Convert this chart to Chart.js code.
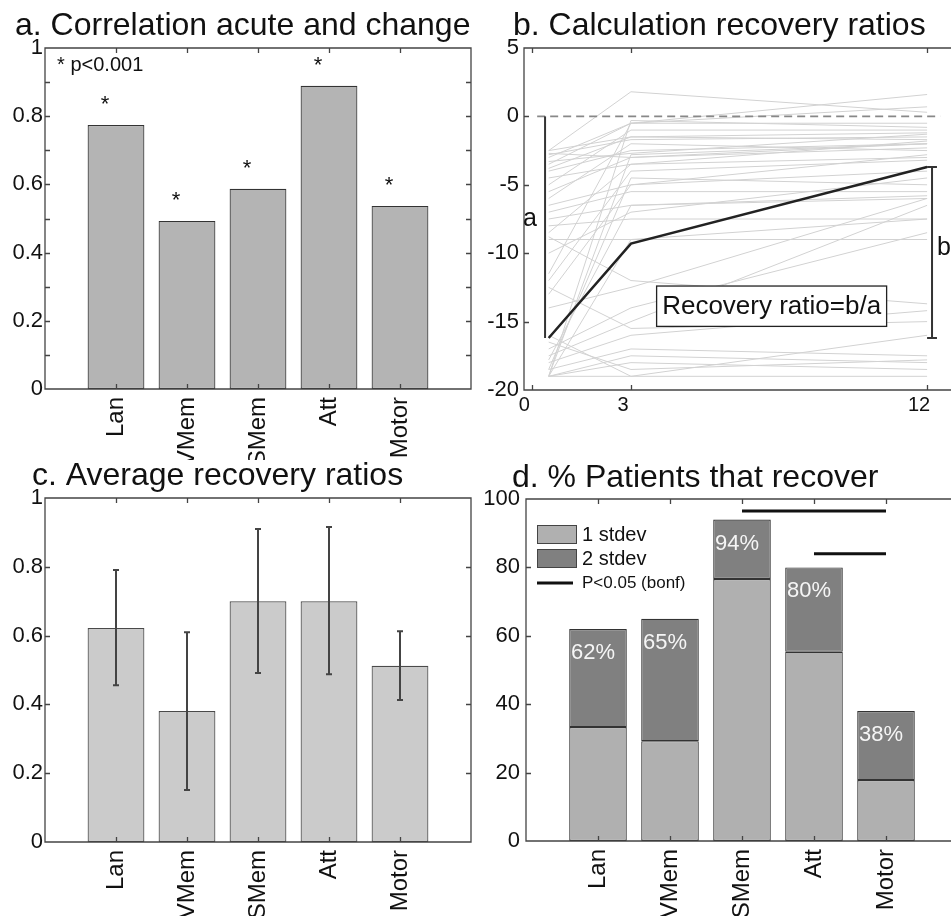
<!DOCTYPE html>
<html>
<head>
<meta charset="utf-8">
<script src="https://cdn.jsdelivr.net/npm/chart.js@4.4.1/dist/chart.umd.min.js"></script>
<style>
  html, body { margin: 0; padding: 0; background: #fff; }
  body { width: 951px; height: 916px; overflow: hidden; position: relative; }
  canvas { position: absolute; }
</style>
</head>
<body>
<canvas id="panelA" width="473" height="460" style="left:0px;top:0px"></canvas>
<canvas id="panelB" width="490" height="460" style="left:472px;top:0px"></canvas>
<canvas id="panelC" width="473" height="456" style="left:0px;top:460px"></canvas>
<canvas id="panelD" width="488" height="456" style="left:472px;top:460px"></canvas>
<script>
// ---- data ----
const domains = ["Lan", "VMem", "SMem", "Att", "Motor"];

// a. correlation acute score vs change
const correlations = [0.774, 0.493, 0.587, 0.889, 0.537];

// b. individual trajectories (acute, 3 months, 12 months)
const months = [0.5, 3, 12];
const monthTicks = [0, 3, 12];
const acuteScore = [-2.5, -3.0, -2.8, -3.5, -4.0, -2.7, -3.3, -4.5, -5.0, -6.0, -6.5, -7.0, -7.5, -8.0, -9.0, -8.5, -11.5, -12.0, -13.0, -8.8,
  -16.0, -17.0, -17.5, -18.0, -18.5, -19.0, -19.0, -19.0, -19.0, -19.0, -18.5, -17.8, -19.0, -14.0, -12.5, -3.8, -5.5, -2.5, -10.0, -16.5];
const month3Score = [1.8, -0.5, -1.7, -0.5, -2.5, -3.0, -2.7, -3.5, -1.0, -2.0, -5.0, -5.5, -6.5, -7.5, -9.0, -3.5, -0.5, -4.0, -5.0, -12.0,
  -19.0, -14.0, -15.0, -16.0, -17.0, -17.5, -18.0, -19.0, -0.3, -2.8, -4.5, -6.5, -9.0, -12.5, -15.5, -1.5, -3.0, -1.5, -7.0, -18.5];
const month12Score = [0.3, -0.5, -1.5, 0.7, -2.0, -2.3, -1.3, -3.0, -1.0, -2.5, -4.0, -5.5, -6.0, -7.5, -9.0, -1.8, 1.6, -3.2, -2.8, -13.7,
  -16.0, -8.5, -6.5, -14.2, -17.5, -18.0, -18.5, -19.0, -0.8, -2.0, -5.0, -5.8, -7.5, -6.0, -15.0, -1.2, -2.0, -1.7, -4.5, -17.8];
const examplePatient = [-16.2, -9.3, -3.7];

// c. average recovery ratios with error bars
const recoveryRatios = [0.622, 0.381, 0.70, 0.70, 0.512];
const ratioLower = [0.456, 0.151, 0.491, 0.488, 0.413];
const ratioUpper = [0.791, 0.61, 0.91, 0.916, 0.613];

// d. % patients that recover
const oneStdev = [33.3, 29.2, 76.6, 55.3, 17.8];
const recoveredPct = [62, 65, 94, 80, 38];
const sigFrom = [3, 4];
const sigTo = [5, 5];
const sigLevel = [96.5, 84];

// ---- common setup ----
Chart.defaults.font.family = "'Liberation Sans', Arial, Helvetica, sans-serif";
Chart.defaults.color = '#111';
Chart.defaults.animation = false;
Chart.defaults.responsive = false;
Chart.defaults.events = [];
Chart.defaults.plugins.legend.display = false;
Chart.defaults.plugins.tooltip.enabled = false;

const FONT = Chart.defaults.font.family;

// panel headings drawn at fixed spots (left edge, baseline)
function headingPlugin(text, x, baseline) {
  return {
    id: 'heading',
    afterDraw(chart) {
      const ctx = chart.ctx;
      ctx.save();
      ctx.font = '32px ' + FONT;
      ctx.fillStyle = '#111';
      ctx.textAlign = 'left';
      ctx.textBaseline = 'alphabetic';
      ctx.fillText(text, x, baseline);
      ctx.restore();
    }
  };
}

function categoryAxis(height) {
  return {
    type: 'linear', min: 0, max: 6, offset: false,
    grid: { display: false, drawTicks: false }, border: { display: false },
    ticks: {
      stepSize: 1, autoSkip: false, minRotation: 90, maxRotation: 90, padding: 8,
      font: { size: 24 }, color: '#111',
      callback: v => domains[v - 1] || ''
    },
    afterFit: s => { s.height = height; s.paddingLeft = 0; s.paddingRight = 0; }
  };
}

function valueAxis(min, max, step, width, pad, labelFn) {
  return {
    min: min, max: max,
    grid: { display: false, drawTicks: false }, border: { display: false },
    ticks: { stepSize: step, autoSkip: false, padding: pad, font: { size: 22 }, color: '#111', callback: labelFn },
    afterFit: s => { s.width = width; }
  };
}

// MATLAB-like box with inward tick marks
const matlabFrame = {
  id: 'matlabFrame',
  afterDatasetsDraw(chart) {
    const { ctx, chartArea: a } = chart;
    const x = chart.scales.x, y = chart.scales.y;
    const len = 5;
    ctx.save();
    ctx.strokeStyle = '#444';
    ctx.lineWidth = 1.3;
    ctx.beginPath();
    x.ticks.forEach(t => {
      if (t.value <= x.min || t.value >= x.max) return;
      const px = Math.round(x.getPixelForValue(t.value)) + 0.5;
      ctx.moveTo(px, a.bottom); ctx.lineTo(px, a.bottom - len);
      ctx.moveTo(px, a.top); ctx.lineTo(px, a.top + len);
    });
    y.ticks.forEach(t => {
      if (t.value <= y.min + 1e-9 || t.value >= y.max - 1e-9) return;
      const py = Math.round(y.getPixelForValue(t.value)) + 0.5;
      ctx.moveTo(a.left, py); ctx.lineTo(a.left + len, py);
      ctx.moveTo(a.right, py); ctx.lineTo(a.right - len, py);
    });
    ctx.rect(a.left, a.top, a.right - a.left, a.bottom - a.top);
    ctx.stroke();
    ctx.restore();
  }
};

const tenthsLabel = v => (Math.round(v * 10) % 2 === 0 ? String(+v.toFixed(1)) : '');

// ---- a. Correlation acute and change ----
const starMarks = {
  id: 'starMarks',
  afterDatasetsDraw(chart) {
    const { ctx } = chart;
    const x = chart.scales.x, y = chart.scales.y;
    ctx.save();
    ctx.fillStyle = '#111';
    ctx.font = '22px ' + FONT;
    ctx.textAlign = 'center';
    ctx.textBaseline = 'middle';
    correlations.forEach((v, i) => {
      ctx.fillText('*', x.getPixelForValue(i + 1) - 11, y.getPixelForValue(v + 0.076) + 6);
    });
    ctx.textAlign = 'left';
    ctx.font = '20px ' + FONT;
    ctx.fillText('* p<0.001', x.getPixelForValue(0.17), y.getPixelForValue(0.95));
    ctx.restore();
  }
};

new Chart(document.getElementById('panelA'), {
  type: 'bar',
  data: {
    datasets: [{
      data: correlations.map((v, i) => ({ x: i + 1, y: v })),
      backgroundColor: '#b4b4b4', borderColor: '#333', borderWidth: 1.2, borderSkipped: false,
      barPercentage: 0.8, categoryPercentage: 1
    }]
  },
  options: {
    layout: { padding: { left: 0, right: 2, top: 48, bottom: 0 } },
    scales: {
      x: categoryAxis(71),
      y: valueAxis(0, 1, 0.1, 45, 2, tenthsLabel)
    }
  },
  plugins: [matlabFrame, starMarks, headingPlugin('a. Correlation acute and change', 15, 35)]
});

// ---- b. Calculation recovery ratios ----
const trajectories = acuteScore.map((a, i) => ({
  data: [a, month3Score[i], month12Score[i]].map((v, k) => ({ x: months[k], y: v })),
  borderColor: '#d2d2d2', borderWidth: 1, pointRadius: 0, order: 3
}));

const ratioNotes = {
  id: 'ratioNotes',
  afterDatasetsDraw(chart) {
    const { ctx } = chart;
    const x = chart.scales.x, y = chart.scales.y;
    ctx.save();
    ctx.strokeStyle = '#333';
    ctx.lineWidth = 2;
    // bracket a
    const ax = x.getPixelForValue(0.39);
    ctx.beginPath();
    ctx.moveTo(ax, y.getPixelForValue(0));
    ctx.lineTo(ax, y.getPixelForValue(examplePatient[0]));
    ctx.stroke();
    // bracket b
    const bx = x.getPixelForValue(12.15), bl = x.getPixelForValue(12.0), br = x.getPixelForValue(12.3);
    const bTop = y.getPixelForValue(examplePatient[2]), bBot = y.getPixelForValue(examplePatient[0]);
    ctx.beginPath();
    ctx.moveTo(bx, bTop); ctx.lineTo(bx, bBot);
    ctx.moveTo(bl, bTop); ctx.lineTo(br, bTop);
    ctx.moveTo(bl, bBot); ctx.lineTo(br, bBot);
    ctx.stroke();
    // labels
    ctx.fillStyle = '#111';
    ctx.font = '25px ' + FONT;
    ctx.textBaseline = 'middle';
    ctx.textAlign = 'center';
    ctx.fillText('a', x.getPixelForValue(-0.07), y.getPixelForValue(-7.5));
    ctx.textAlign = 'left';
    ctx.fillText('b', x.getPixelForValue(12.3), y.getPixelForValue(-9.65));
    // recovery ratio box
    const l = x.getPixelForValue(3.78), r = x.getPixelForValue(10.77);
    const t = y.getPixelForValue(-12.4), b = y.getPixelForValue(-15.35);
    ctx.fillStyle = '#fff';
    ctx.fillRect(l, t, r - l, b - t);
    ctx.lineWidth = 1.3;
    ctx.strokeStyle = '#222';
    ctx.strokeRect(l, t, r - l, b - t);
    ctx.fillStyle = '#111';
    ctx.font = '26px ' + FONT;
    ctx.textAlign = 'center';
    ctx.fillText('Recovery ratio=b/a', (l + r) / 2, (t + b) / 2 + 1);
    ctx.restore();
  }
};

new Chart(document.getElementById('panelB'), {
  type: 'line',
  data: {
    datasets: [
      {
        data: examplePatient.map((v, k) => ({ x: months[k], y: v })),
        borderColor: '#222', borderWidth: 2.5, pointRadius: 0, order: 1
      },
      {
        data: [{ x: 0.15, y: 0 }, { x: 12.4, y: 0 }],
        borderColor: '#888', borderWidth: 1.6, borderDash: [8, 5], pointRadius: 0, order: 2
      }
    ].concat(trajectories)
  },
  options: {
    layout: { padding: { left: 0, right: 2, top: 48, bottom: 0 } },
    scales: {
      x: {
        type: 'linear', min: -0.25, max: 13,
        grid: { display: false, drawTicks: false }, border: { display: false },
        afterBuildTicks: s => { s.ticks = monthTicks.map(v => ({ value: v })); },
        ticks: {
          autoSkip: false, minRotation: 0, maxRotation: 0, padding: 3, labelOffset: -8,
          font: { size: 20 }, color: '#111', callback: v => String(v)
        },
        afterFit: s => { s.height = 70; s.paddingLeft = 0; s.paddingRight = 0; }
      },
      y: valueAxis(-20, 5, 5, 52, 5, v => String(v))
    }
  },
  plugins: [matlabFrame, ratioNotes, headingPlugin('b. Calculation recovery ratios', 41, 35)]
});

// ---- c. Average recovery ratios ----
const errorBars = {
  id: 'errorBars',
  afterDatasetsDraw(chart) {
    const { ctx } = chart;
    const x = chart.scales.x, y = chart.scales.y;
    ctx.save();
    ctx.strokeStyle = '#444';
    ctx.lineWidth = 2;
    ctx.beginPath();
    recoveryRatios.forEach((v, i) => {
      const px = x.getPixelForValue(i + 1);
      const lo = y.getPixelForValue(ratioLower[i]), hi = y.getPixelForValue(ratioUpper[i]);
      ctx.moveTo(px, lo); ctx.lineTo(px, hi);
      ctx.moveTo(px - 3, lo); ctx.lineTo(px + 3, lo);
      ctx.moveTo(px - 3, hi); ctx.lineTo(px + 3, hi);
    });
    ctx.stroke();
    ctx.restore();
  }
};

new Chart(document.getElementById('panelC'), {
  type: 'bar',
  data: {
    datasets: [{
      data: recoveryRatios.map((v, i) => ({ x: i + 1, y: v })),
      backgroundColor: '#cbcbcb', borderColor: '#4a4a4a', borderWidth: 1.2, borderSkipped: false,
      barPercentage: 0.8, categoryPercentage: 1
    }]
  },
  options: {
    layout: { padding: { left: 0, right: 2, top: 38, bottom: 0 } },
    scales: {
      x: categoryAxis(74),
      y: valueAxis(0, 1, 0.2, 45, 2, v => String(+v.toFixed(1)))
    }
  },
  plugins: [matlabFrame, errorBars, headingPlugin('c. Average recovery ratios', 32, 25)]
});

// ---- d. % Patients that recover ----
const pctNotes = {
  id: 'pctNotes',
  afterDatasetsDraw(chart) {
    const { ctx, chartArea: a } = chart;
    const x = chart.scales.x, y = chart.scales.y;
    const ds = chart.data.datasets;
    ctx.save();
    // white percentage labels
    ctx.fillStyle = '#f5f5f5';
    ctx.font = '22px ' + FONT;
    ctx.textAlign = 'center';
    ctx.textBaseline = 'middle';
    recoveredPct.forEach((v, i) => {
      ctx.fillText(v + '%', x.getPixelForValue(i + 1) - 5, y.getPixelForValue(v - 7));
    });
    // legend
    const lx = a.left + 11;
    ctx.strokeStyle = '#444';
    ctx.lineWidth = 1;
    [0, 1].forEach(k => {
      const ty = a.top + 26 + k * 24;
      ctx.fillStyle = ds[k].backgroundColor;
      ctx.fillRect(lx, ty, 39, 18);
      ctx.strokeRect(lx + 0.5, ty + 0.5, 39, 18);
      ctx.fillStyle = '#111';
      ctx.textAlign = 'left';
      ctx.font = '20px ' + FONT;
      ctx.fillText(ds[k].label, lx + 45, ty + 10);
    });
    const ly = a.top + 84;
    ctx.strokeStyle = ds[2].borderColor;
    ctx.lineWidth = 3;
    ctx.beginPath();
    ctx.moveTo(lx, ly); ctx.lineTo(lx + 36, ly);
    ctx.stroke();
    ctx.font = '17px ' + FONT;
    ctx.fillText(ds[2].label, lx + 45, ly);
    ctx.restore();
  }
};

const sigLines = sigLevel.map((lvl, k) => ({
  type: 'line',
  label: 'P<0.05 (bonf)',
  data: [{ x: sigFrom[k], y: lvl }, { x: sigTo[k], y: lvl }],
  borderColor: '#111', borderWidth: 3, pointRadius: 0, stack: 'sig' + k
}));

new Chart(document.getElementById('panelD'), {
  type: 'bar',
  data: {
    datasets: [
      {
        label: '1 stdev',
        data: oneStdev.map((v, i) => ({ x: i + 1, y: v })),
        backgroundColor: '#b0b0b0', borderColor: '#333', borderWidth: 1.2, borderSkipped: false,
        barPercentage: 0.8, categoryPercentage: 1, stack: 'pct'
      },
      {
        label: '2 stdev',
        data: recoveredPct.map((v, i) => ({ x: i + 1, y: v - oneStdev[i] })),
        backgroundColor: '#808080', borderColor: '#333', borderWidth: 1.2, borderSkipped: false,
        barPercentage: 0.8, categoryPercentage: 1, stack: 'pct'
      }
    ].concat(sigLines)
  },
  options: {
    layout: { padding: { left: 0, right: 2, top: 39, bottom: 0 } },
    scales: {
      x: categoryAxis(75),
      y: Object.assign(valueAxis(0, 100, 20, 54, 6, v => String(v)), { stacked: true })
    }
  },
  plugins: [matlabFrame, pctNotes, headingPlugin('d. % Patients that recover', 40, 26.5)]
});
</script>
</body>
</html>
